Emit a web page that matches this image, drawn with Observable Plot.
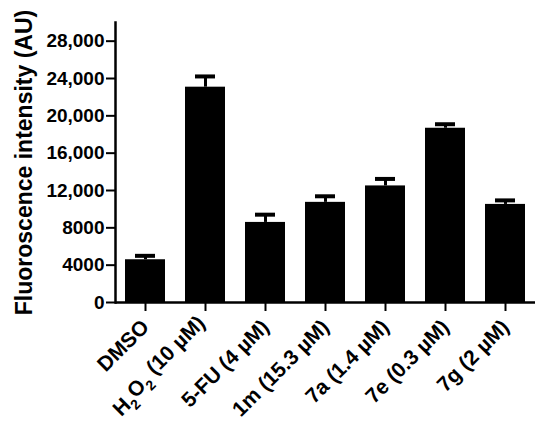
<!DOCTYPE html>
<html>
<head>
<meta charset="utf-8">
<script src="https://cdn.jsdelivr.net/npm/d3@7"></script>
<script src="https://cdn.jsdelivr.net/npm/@observablehq/plot@0.6"></script>
<style>
  html, body { margin: 0; padding: 0; background: #fff; }
  #chart svg { display: block; }
  [aria-label="y-axis tick label"] text { font-family: "Liberation Sans", Arial, sans-serif; font-weight: 700; font-size: 19px; }
  [aria-label="x-axis tick label"] text { font-family: "Liberation Sans", Arial, sans-serif; font-weight: 700; font-size: 21px; }
  [aria-label="y-axis label"] text { font-family: "Liberation Sans", Arial, sans-serif; font-weight: 700; font-size: 23px; }
</style>
</head>
<body>
<div id="chart"></div>
<script>
const categories = ["DMSO", "H₂O₂ (10 µM)", "5-FU (4 µM)", "1m (15.3 µM)", "7a (1.4 µM)", "7e (0.3 µM)", "7g (2 µM)"];
const means = [4580, 23070, 8580, 10730, 12490, 18670, 10510];
const errors = [420, 1150, 830, 650, 750, 430, 430];
const yTicks = [0, 4000, 8000, 12000, 16000, 20000, 24000, 28000];
const yLabel = "Fluoroscence intensity (AU)";

const data = categories.map((c, i) => ({cat: c, mean: means[i], top: means[i] + errors[i]}));
const fmt = d => d >= 10000 ? d3.format(",")(d) : String(d);

const plot = Plot.plot({
  width: 550,
  height: 425,
  marginLeft: 115,
  marginRight: 15,
  marginTop: 22,
  marginBottom: 123,
  style: {background: "#fff", color: "#000"},
  x: {domain: categories, paddingInner: 1/3, paddingOuter: 1/6},
  y: {domain: [0, 30000]},
  marks: [
    Plot.barY(data, {x: "cat", y: "mean", fill: "#000"}),
    Plot.ruleX(data, {x: "cat", y1: "mean", y2: "top", stroke: "#000", strokeWidth: 3}),
    Plot.tickY(data, {x: "cat", y: "top", stroke: "#000", strokeWidth: 4, insetLeft: 10, insetRight: 10}),
    Plot.frame({anchor: "left", stroke: "#000", strokeWidth: 2.5}),
    Plot.ruleY([0], {stroke: "#000", strokeWidth: 2.5}),
    Plot.axisY({ticks: yTicks, tickFormat: fmt, tickSize: 9, tickPadding: 2, strokeWidth: 2,
      label: yLabel, labelAnchor: "center", labelArrow: "none", labelOffset: 100}),
    Plot.axisX({tickSize: 9, tickPadding: 12, strokeWidth: 2, tickRotate: -45, label: null})
  ]
});

// render subscript digits as real subscripts
plot.querySelectorAll('[aria-label="x-axis tick label"] text').forEach(t => {
  const s = t.textContent;
  if (!s.includes("₂")) return;
  t.textContent = "";
  const parts = s.split(/(₂)/);
  let sub = false;
  parts.forEach(p => {
    if (!p) return;
    const ts = document.createElementNS("http://www.w3.org/2000/svg", "tspan");
    if (p === "₂") {
      ts.textContent = "2";
      ts.setAttribute("font-size", "14px");
      ts.setAttribute("dy", "0.4em");
      sub = true;
    } else {
      ts.textContent = p;
      if (sub) { ts.setAttribute("dy", "-0.4em"); sub = false; }
    }
    t.appendChild(ts);
  });
});

document.getElementById("chart").appendChild(plot);
</script>
</body>
</html>
